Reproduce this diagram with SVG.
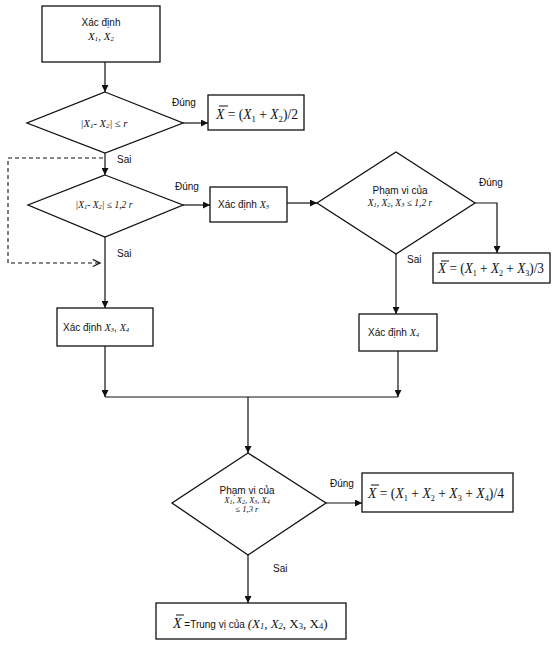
<svg xmlns="http://www.w3.org/2000/svg" width="557" height="647" viewBox="0 0 557 647">
<defs>
<style>
.box{fill:#fff;stroke:#111;stroke-width:1.3}
.ln{fill:none;stroke:#111;stroke-width:1.2}
.dash{fill:none;stroke:#111;stroke-width:1.1;stroke-dasharray:4 3}
.s{font-family:"Liberation Sans",Arial,sans-serif;font-size:10px;fill:#111}
.m{font-family:"Liberation Serif","Times New Roman",serif;font-style:italic;fill:#111}
.f{font-family:"Liberation Serif","Times New Roman",serif;font-size:14px;fill:#111}
.i{font-style:italic}
.bar{stroke:#111;stroke-width:1}
</style>
<marker id="ar" viewBox="0 0 10 10" refX="10" refY="5" markerWidth="7" markerHeight="7" markerUnits="userSpaceOnUse" orient="auto">
<path d="M0,0 L10,5 L0,10 z" fill="#111"/>
</marker>
<marker id="oa" viewBox="0 0 10 10" refX="9" refY="5" markerWidth="9" markerHeight="9" markerUnits="userSpaceOnUse" orient="auto">
<path d="M1,1 L9,5 L1,9" fill="none" stroke="#111" stroke-width="1.3"/>
</marker>
</defs>
<rect width="557" height="647" fill="#fff"/>

<g id="connectors">
<line class="ln" x1="105" y1="62" x2="105" y2="92" marker-end="url(#ar)"/>
<line class="ln" x1="183" y1="123" x2="208" y2="123" marker-end="url(#ar)"/>
<line class="ln" x1="105" y1="153" x2="105" y2="175" marker-end="url(#ar)"/>
<path class="dash" d="M103,158 H8 V263 H100" marker-end="url(#oa)"/>
<line class="ln" x1="183" y1="205" x2="210" y2="205" marker-end="url(#ar)"/>
<line class="ln" x1="287" y1="203" x2="317" y2="203" marker-end="url(#ar)"/>
<path class="ln" d="M475,203 H497 V253" marker-end="url(#ar)"/>
<line class="ln" x1="105" y1="237" x2="105" y2="308" marker-end="url(#ar)"/>
<line class="ln" x1="396" y1="254" x2="396" y2="314" marker-end="url(#ar)"/>
<line class="ln" x1="105" y1="346" x2="105" y2="397" marker-end="url(#ar)"/>
<line class="ln" x1="398" y1="351" x2="398" y2="397" marker-end="url(#ar)"/>
<line class="ln" x1="105" y1="397" x2="398" y2="397"/>
<line class="ln" x1="248" y1="397" x2="248" y2="453" marker-end="url(#ar)"/>
<line class="ln" x1="326" y1="503" x2="362" y2="503" marker-end="url(#ar)"/>
<line class="ln" x1="248" y1="555" x2="248" y2="603" marker-end="url(#ar)"/>
<text class="s" x="172" y="106">Đúng</text>
<text class="s" x="117" y="163">Sai</text>
<text class="s" x="175" y="190">Đúng</text>
<text class="s" x="117" y="257">Sai</text>
<text class="s" x="479" y="186">Đúng</text>
<text class="s" x="407" y="263">Sai</text>
<text class="s" x="330" y="487">Đúng</text>
<text class="s" x="273" y="572">Sai</text>
</g>

<g id="n1">
<rect class="box" x="42" y="6" width="118" height="56"/>
<text class="s" x="101" y="26" text-anchor="middle">Xác định</text>
<text class="m" x="101" y="40" font-size="11" text-anchor="middle">X<tspan font-size="7" dy="1">1</tspan><tspan dy="-1">, X</tspan><tspan font-size="7" dy="1">2</tspan></text>
</g>

<g id="d1">
<polygon class="box" points="105,92 183,123 105,153 27,123"/>
<text class="m" x="104" y="127" font-size="10.5" text-anchor="middle">|X<tspan font-size="7" dy="1">1</tspan><tspan dy="-1">- X</tspan><tspan font-size="7" dy="1">2</tspan><tspan dy="-1">| ≤ r</tspan></text>
</g>

<g id="r1">
<rect class="box" x="208" y="95" width="96" height="35"/>
<line class="bar" x1="219" y1="106" x2="228" y2="106"/>
<text class="f" x="216" y="119" font-size="15" textLength="82" lengthAdjust="spacingAndGlyphs"><tspan class="i">X</tspan> = (<tspan class="i">X</tspan><tspan font-size="9" dy="3">1</tspan><tspan dy="-3"> + </tspan><tspan class="i">X</tspan><tspan font-size="9" dy="3">2</tspan><tspan dy="-3">)/2</tspan></text>
</g>

<g id="d2">
<polygon class="box" points="105,175 183,205 105,237 28,205"/>
<text class="m" x="104" y="208" font-size="9.5" text-anchor="middle">|X<tspan font-size="6.5" dy="1">1</tspan><tspan dy="-1">- X</tspan><tspan font-size="6.5" dy="1">2</tspan><tspan dy="-1">| ≤ 1,2 r</tspan></text>
</g>

<g id="n3">
<rect class="box" x="210" y="187" width="77" height="35"/>
<text class="s" x="218" y="208">Xác định <tspan class="m" font-size="10">X</tspan><tspan class="m" font-size="6.5" dy="1">3</tspan></text>
</g>

<g id="d3">
<polygon class="box" points="396,152 475,203 396,254 317,203"/>
<text class="s" x="400" y="194" text-anchor="middle">Phạm vi của</text>
<text class="m" x="400" y="206" font-size="9.5" text-anchor="middle">X<tspan font-size="6.5" dy="1">1</tspan><tspan dy="-1">, X</tspan><tspan font-size="6.5" dy="1">2</tspan><tspan dy="-1">, X</tspan><tspan font-size="6.5" dy="1">3</tspan><tspan dy="-1"> ≤ 1,2 r</tspan></text>
</g>

<g id="r3">
<rect class="box" x="433" y="253" width="117" height="30"/>
<line class="bar" x1="441" y1="261" x2="449" y2="261"/>
<text class="f" x="438" y="273" textLength="106" lengthAdjust="spacingAndGlyphs"><tspan class="i">X</tspan> = (<tspan class="i">X</tspan><tspan font-size="8.5" dy="3">1</tspan><tspan dy="-3"> + </tspan><tspan class="i">X</tspan><tspan font-size="8.5" dy="3">2</tspan><tspan dy="-3"> + </tspan><tspan class="i">X</tspan><tspan font-size="8.5" dy="3">3</tspan><tspan dy="-3">)/3</tspan></text>
</g>

<g id="n34">
<rect class="box" x="57" y="308" width="96" height="38"/>
<text class="s" x="63" y="331">Xác định <tspan class="m" font-size="10">X</tspan><tspan class="m" font-size="6.5" dy="1">3</tspan><tspan dy="-1">, </tspan><tspan class="m" font-size="10">X</tspan><tspan class="m" font-size="6.5" dy="1">4</tspan></text>
</g>

<g id="n4">
<rect class="box" x="359" y="314" width="78" height="37"/>
<text class="s" x="368" y="336">Xác định <tspan class="m" font-size="10">X</tspan><tspan class="m" font-size="6.5" dy="1">4</tspan></text>
</g>

<g id="d4">
<polygon class="box" points="248,453 326,503 248,555 172,503"/>
<text class="s" x="247" y="494" text-anchor="middle">Phạm vi của</text>
<text class="m" x="247" y="503" font-size="8.5" text-anchor="middle">X<tspan font-size="6" dy="1">1</tspan><tspan dy="-1">, X</tspan><tspan font-size="6" dy="1">2</tspan><tspan dy="-1">, X</tspan><tspan font-size="6" dy="1">3</tspan><tspan dy="-1">, X</tspan><tspan font-size="6" dy="1">4</tspan></text>
<text class="m" x="247" y="512" font-size="8.5" text-anchor="middle">≤ 1,3 r</text>
</g>

<g id="r4">
<rect class="box" x="362" y="473" width="151" height="39"/>
<line class="bar" x1="371" y1="485" x2="379" y2="485"/>
<text class="f" x="368" y="498" textLength="136" lengthAdjust="spacingAndGlyphs"><tspan class="i">X</tspan> = (<tspan class="i">X</tspan><tspan font-size="8.5" dy="3">1</tspan><tspan dy="-3"> + </tspan><tspan class="i">X</tspan><tspan font-size="8.5" dy="3">2</tspan><tspan dy="-3"> + </tspan><tspan class="i">X</tspan><tspan font-size="8.5" dy="3">3</tspan><tspan dy="-3"> + </tspan><tspan class="i">X</tspan><tspan font-size="8.5" dy="3">4</tspan><tspan dy="-3">)/4</tspan></text>
</g>

<g id="r5">
<rect class="box" x="156" y="603" width="190" height="36"/>
<line class="bar" x1="176" y1="615" x2="184" y2="615"/>
<text class="f" x="173" y="628" font-size="15"><tspan class="i">X</tspan><tspan class="s" font-size="11"> =Trung vị của </tspan><tspan class="i" font-size="13">(X</tspan><tspan class="i" font-size="8.5" dy="1">1</tspan><tspan class="i" font-size="13" dy="-1">, X</tspan><tspan class="i" font-size="8.5" dy="1">2</tspan><tspan font-size="13" dy="-1">, X</tspan><tspan font-size="8.5" dy="1">3</tspan><tspan font-size="13" dy="-1">, X</tspan><tspan font-size="8.5" dy="1">4</tspan><tspan font-size="13" dy="-1">)</tspan></text>
</g>
</svg>
